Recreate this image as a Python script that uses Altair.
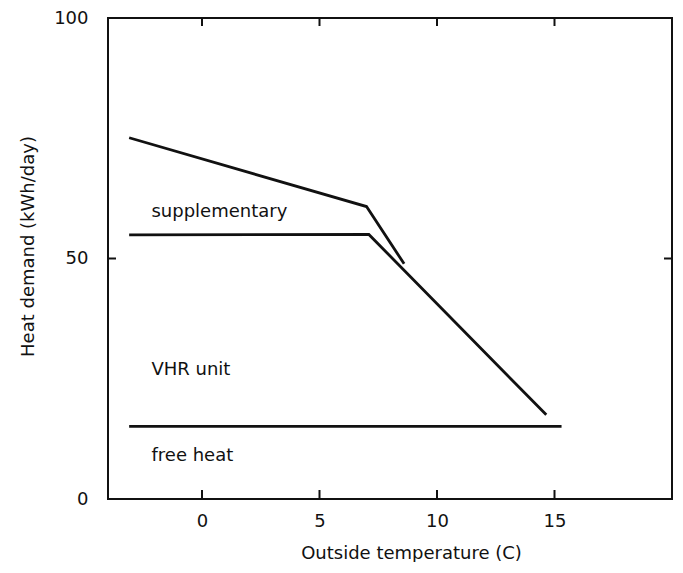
import altair as alt
import pandas as pd

# --- data ---
supp_x = [-3.1, 7.0, 8.6]
supp_y = [75.1, 60.8, 48.9]
vhr_x = [-3.1, 7.1, 14.65]
vhr_y = [54.9, 55.0, 17.5]
free_x = [-3.1, 15.3]
free_y = [15.1, 15.1]

label_text = ["supplementary", "VHR unit", "free heat"]
label_x = [-2.15, -2.15, -2.15]
label_y = [59.7, 26.9, 9.0]

x_ticks = [0, 5, 10, 15]
y_ticks = [0, 50, 100]
y_inner_ticks = [50]

rows = []
for name, xs_, ys_ in [("supplementary", supp_x, supp_y),
                       ("vhr", vhr_x, vhr_y),
                       ("free", free_x, free_y)]:
    for i, (a, b) in enumerate(zip(xs_, ys_)):
        rows.append({"series": name, "order": i, "t": a, "q": b})
lines_df = pd.DataFrame(rows)
labels_df = pd.DataFrame({"text": label_text, "t": label_x, "q": label_y})
xt_df = pd.DataFrame({"t": x_ticks})
yt_df = pd.DataFrame({"q": y_inner_ticks})

W, H = 564, 481
FONT = "DejaVu Sans"
INK = "#111111"
FS = 18

xs = alt.Scale(domain=[-4, 20], nice=False, zero=False)
ys = alt.Scale(domain=[0, 100], nice=False, zero=False)

x_axis = alt.Axis(
    values=x_ticks, ticks=False, domain=False, grid=False,
    labelPadding=13, labelFontSize=FS, labelFont=FONT, labelColor=INK,
    labelFlush=False, labelOverlap=False,
    title="Outside temperature (C)", titleFont=FONT, titleFontSize=FS,
    titleFontWeight="normal", titleColor=INK,
    titleX=303, titleY=54, titleAlign="center", titleBaseline="middle")
y_axis = alt.Axis(
    values=y_ticks, ticks=False, domain=False, grid=False,
    labelPadding=20, labelFontSize=FS, labelFont=FONT, labelColor=INK,
    labelFlush=False, labelOverlap=False,
    title="Heat demand (kWh/day)", titleFont=FONT, titleFontSize=FS,
    titleFontWeight="normal", titleColor=INK, titleAngle=270,
    titleX=-80, titleY=228, titleAlign="center", titleBaseline="middle")

X = alt.X("t:Q", scale=xs, axis=x_axis)
Y = alt.Y("q:Q", scale=ys, axis=y_axis)

lines = alt.Chart(lines_df).mark_line(color=INK, strokeWidth=2.8).encode(
    x=X, y=Y, detail="series:N", order="order:O")

texts = alt.Chart(labels_df).mark_text(
    align="left", baseline="middle", fontSize=FS, font=FONT, color=INK
).encode(x=X, y=Y, text="text:N")

bottom_ticks = alt.Chart(xt_df).mark_rule(color=INK, strokeWidth=2).encode(
    x=X, y=alt.value(H), y2=alt.value(H - 9))
top_ticks = alt.Chart(xt_df).mark_rule(color=INK, strokeWidth=2).encode(
    x=X, y=alt.value(0), y2=alt.value(8))
left_ticks = alt.Chart(yt_df).mark_rule(color=INK, strokeWidth=2).encode(
    y=Y, x=alt.value(0), x2=alt.value(8))
right_ticks = alt.Chart(yt_df).mark_rule(color=INK, strokeWidth=2).encode(
    y=Y, x=alt.value(W), x2=alt.value(W - 8))

chart = alt.layer(lines, texts, bottom_ticks, top_ticks, left_ticks, right_ticks).properties(
    width=W, height=H,
    autosize=alt.AutoSizeParams(type="none"),
    padding={"left": 100, "top": 10, "right": 3, "bottom": 63},
    background="white",
).configure_view(stroke=INK, strokeWidth=2)

chart.save("out.html", embed_options={"renderer": "svg", "actions": False})
